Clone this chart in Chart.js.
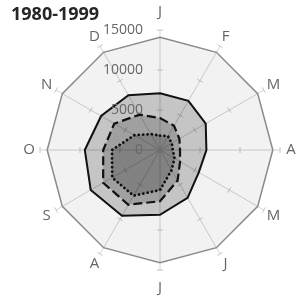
<!DOCTYPE html>
<html>
<head>
<meta charset="utf-8">
<script src="https://cdn.jsdelivr.net/npm/chart.js@4.4.1/dist/chart.umd.min.js"></script>
<style>
  body { margin: 0; background: #fff; }
  canvas { display: block; }
</style>
</head>
<body>
<canvas id="radar" width="297" height="298"></canvas>
<script>
  const months = ['J', 'F', 'M', 'A', 'M', 'J', 'J', 'A', 'S', 'O', 'N', 'D'];
  const tickValues = [0, 5000, 10000, 15000];
  const outerValues = [14100, 14100, 14100, 14100, 14100, 14100, 14100, 14100, 14100, 14100, 14100, 14100];
  const solidValues = [7100, 7100, 6600, 5800, 5600, 6900, 8100, 9500, 10000, 9400, 8500, 7900];
  const dashedValues = [4000, 3500, 2800, 2500, 2900, 4400, 6400, 7900, 8200, 7100, 6600, 5100];
  const dottedValues = [1800, 2000, 1700, 1600, 2100, 2900, 5000, 6600, 6900, 6000, 3700, 2300];

  const ctx = document.getElementById('radar');

  // spoke ticks, tick labels, month labels and the title
  const extras = {
    id: 'extras',
    beforeDatasetsDraw(chart) {
      const r = chart.scales.r;
      const c = chart.ctx;
      c.save();
      c.strokeStyle = '#c4c4c4';
      c.lineWidth = 1;
      for (let i = 0; i < months.length; i++) {
        const a = r.getIndexAngle(i) - Math.PI / 2;
        const px = -Math.sin(a), py = Math.cos(a);
        tickValues.slice(1).forEach(v => {
          const p = r.getPointPositionForValue(i, v);
          c.beginPath();
          c.moveTo(p.x - px * 3, p.y - py * 3);
          c.lineTo(p.x + px * 3, p.y + py * 3);
          c.stroke();
        });
      }
      c.restore();
    },
    afterDraw(chart) {
      const r = chart.scales.r;
      const c = chart.ctx;
      c.save();
      c.fillStyle = '#666';
      c.font = '14px "Open Sans"';
      c.textAlign = 'right';
      c.textBaseline = 'middle';
      tickValues.forEach(v => {
        const y = r.yCenter - r.getDistanceFromCenterForValue(v);
        c.fillText(String(v), r.xCenter - 17, y);
      });

      c.font = '15px "Open Sans"';
      c.textAlign = 'center';
      for (let i = 0; i < months.length; i++) {
        const d = r.drawingArea + (i % 6 === 0 ? 18 : 11);
        const p = r.getPointPosition(i, d);
        c.fillText(months[i], p.x, p.y);
      }

      c.fillStyle = '#262626';
      c.font = 'bold 18px "Open Sans"';
      c.textAlign = 'left';
      c.textBaseline = 'alphabetic';
      c.fillText('1980-1999', 11, 20);
      c.restore();
    }
  };

  new Chart(ctx, {
    type: 'radar',
    data: {
      labels: months,
      datasets: [
        {
          label: 'outer',
          data: outerValues,
          borderColor: '#8a8a8a',
          borderWidth: 1.5,
          backgroundColor: 'rgba(0,0,0,0.05)',
          fill: true,
          order: 4
        },
        {
          label: 'solid',
          data: solidValues,
          borderColor: '#111',
          borderWidth: 2,
          backgroundColor: 'rgba(0,0,0,0.19)',
          fill: true,
          order: 3
        },
        {
          label: 'dashed',
          data: dashedValues,
          borderColor: '#111',
          borderWidth: 2.2,
          borderDash: [9, 4],
          backgroundColor: 'rgba(0,0,0,0.19)',
          fill: true,
          order: 2
        },
        {
          label: 'dotted',
          data: dottedValues,
          borderColor: '#111',
          borderWidth: 2.8,
          borderDash: [0.1, 4.3],
          borderCapStyle: 'round',
          backgroundColor: 'rgba(0,0,0,0.19)',
          fill: true,
          order: 1
        }
      ]
    },
    options: {
      responsive: false,
      animation: false,
      layout: { padding: { left: 40, right: 17, top: 30, bottom: 28 } },
      elements: {
        point: { radius: 0, hoverRadius: 0 },
        line: { tension: 0 }
      },
      plugins: {
        legend: { display: false },
        tooltip: { enabled: false }
      },
      scales: {
        r: {
          min: 0,
          max: 15000,
          ticks: { stepSize: 5000, display: false },
          grid: { display: false },
          angleLines: { display: true, color: '#d2d2d2', lineWidth: 1 },
          pointLabels: { display: false }
        }
      }
    },
    plugins: [extras]
  });
</script>
</body>
</html>
